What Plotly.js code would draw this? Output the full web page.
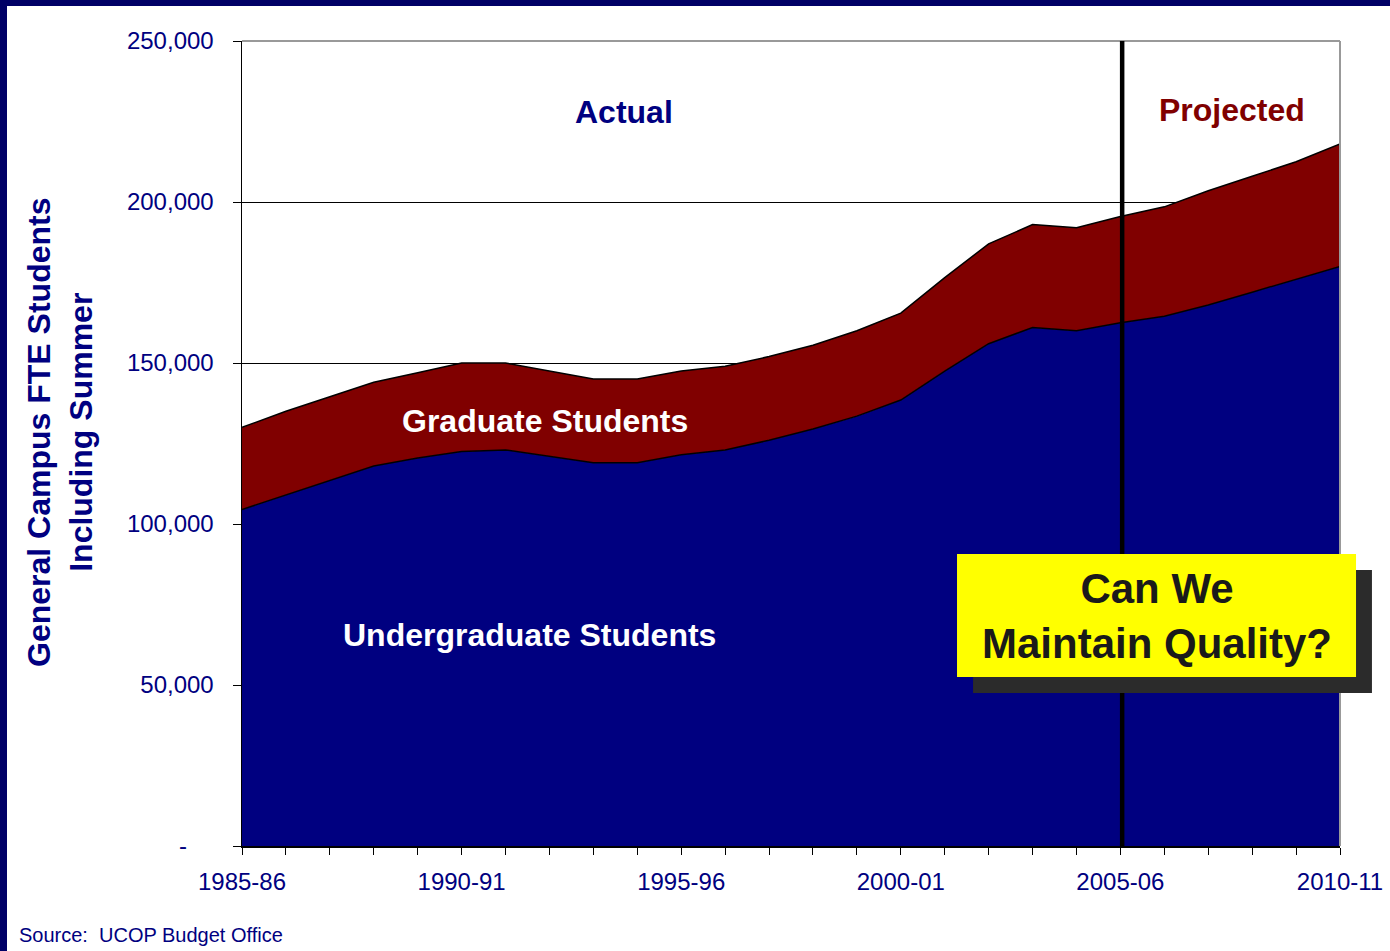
<!DOCTYPE html>
<html>
<head>
<meta charset="utf-8">
<script src="https://cdn.plot.ly/plotly-3.0.1.min.js"></script>
<style>
  html, body { margin: 0; padding: 0; background: #ffffff; }
  #chart { position: absolute; left: 0; top: 0; width: 1390px; height: 951px; }
  #topbar { position: absolute; left: 0; top: 0; width: 1390px; height: 6px; background: #000066; z-index: 5; }
  #leftbar { position: absolute; left: 0; top: 0; width: 7px; height: 951px; background: #000066; z-index: 5; }
</style>
</head>
<body>
<div id="chart"></div>
<div id="topbar"></div>
<div id="leftbar"></div>
<script>
// Academic years (categories)
const years = ["1985-86","1986-87","1987-88","1988-89","1989-90","1990-91","1991-92","1992-93",
  "1993-94","1994-95","1995-96","1996-97","1997-98","1998-99","1999-00","2000-01","2001-02",
  "2002-03","2003-04","2004-05","2005-06","2006-07","2007-08","2008-09","2009-10","2010-11"];

// Undergraduate FTE students
const undergrad = [104500,109000,113500,118000,120500,122500,123000,121000,119000,119000,
  121500,123000,126000,129500,133500,138500,147500,156000,161000,160000,
  162500,164500,168000,172000,176000,180000];

// Graduate FTE students (stacked on top of undergraduates)
const graduate = [25500,26000,26000,26000,26500,27500,27000,26500,26000,26000,
  26000,26000,26000,26000,26500,27000,29000,31000,32000,32000,
  33000,34000,35500,36000,36500,38000];

// Axis ticks
const yTickVals = [0,50000,100000,150000,200000,250000];
const yTickText = ["-\u00a0\u00a0\u00a0\u00a0","50,000","100,000","150,000","200,000","250,000"];
const xLabelYears = ["1985-86","1990-91","1995-96","2000-01","2005-06","2010-11"];
const xTickText = years.map(y => xLabelYears.includes(y) ? y : "");
const projectionStart = "2005-06";

const navy = "#000080";
const maroon = "#800000";
const font = "Arial, 'Liberation Sans', sans-serif";

const traces = [
  {
    x: years, y: undergrad, type: "scatter", mode: "lines", stackgroup: "one",
    fillcolor: navy, line: {color: "#000000", width: 1.5},
    hoverinfo: "skip", showlegend: false
  },
  {
    x: years, y: graduate, type: "scatter", mode: "lines", stackgroup: "one",
    fillcolor: maroon, line: {color: "#000000", width: 1.5},
    hoverinfo: "skip", showlegend: false
  }
];

function note(x, y, text, size, color, extra) {
  return Object.assign({xref: "paper", yref: "paper", x: x, y: y, text: text, showarrow: false,
    xanchor: "center", yanchor: "middle", font: {size: size, color: color, family: font}}, extra || {});
}

const layout = {
  width: 1390, height: 951,
  margin: {l: 242, r: 50, t: 41, b: 105},
  paper_bgcolor: "rgba(0,0,0,0)",
  plot_bgcolor: "#ffffff",
  font: {family: font, color: navy},
  showlegend: false,
  xaxis: {
    type: "category",
    range: [0, years.length - 1],
    tickvals: years, ticktext: xTickText,
    ticks: "outside", ticklen: 7, tickcolor: "#000000", tickwidth: 1,
    tickfont: {size: 24, color: navy, family: font},
    ticklabelstandoff: 7,
    showline: true, linecolor: "#000000", linewidth: 1.5,
    showgrid: false, zeroline: false, fixedrange: true
  },
  yaxis: {
    range: [0, 250000],
    tickvals: yTickVals, ticktext: yTickText,
    ticks: "outside", ticklen: 8, tickcolor: "#000000", tickwidth: 1,
    tickfont: {size: 24, color: navy, family: font},
    ticklabelstandoff: 14,
    showline: true, linecolor: "#000000", linewidth: 1.5,
    showgrid: true, gridcolor: "#000000", gridwidth: 1,
    zeroline: false, fixedrange: true, layer: "below traces"
  },
  shapes: [
    {type: "line", xref: "paper", yref: "paper", x0: 0, x1: 1, y0: 1, y1: 1,
     line: {color: "#999999", width: 2}, layer: "above"},
    {type: "line", xref: "paper", yref: "paper", x0: 1, x1: 1, y0: 0, y1: 1,
     line: {color: "#999999", width: 2}, layer: "above"},
    {type: "line", xref: "x", yref: "paper", x0: projectionStart, x1: projectionStart, y0: 0, y1: 1,
     x0shift: 0.04, x1shift: 0.04, line: {color: "#000000", width: 4.5}, layer: "above"},
    {type: "rect", xref: "paper", yref: "paper", x0: 0.6658, x1: 1.0291, y0: 0.1901, y1: 0.3429,
     fillcolor: "#2b2b2b", line: {width: 0}, layer: "above"},
    {type: "rect", xref: "paper", yref: "paper", x0: 0.6512, x1: 1.0146, y0: 0.2099, y1: 0.3627,
     fillcolor: "#ffff00", line: {width: 0}, layer: "above"}
  ],
  annotations: [
    note(-0.1658, 0.5143, "<b>General Campus FTE Students<br>Including Summer</b>", 32, navy, {textangle: -90}),
    note(0.3479, 0.9118, "<b>Actual</b>", 32, navy),
    note(0.9016, 0.9143, "<b>Projected</b>", 32, maroon),
    note(0.2760, 0.5280, "<b>Graduate Students</b>", 32, "#ffffff"),
    note(0.2614, 0.2621, "<b>Undergraduate Students</b>", 32, "#ffffff"),
    note(0.8329, 0.2863, "<b>Can We<br>Maintain Quality?</b>", 42, "#1a1a1a"),
    note(-0.2049, -0.1106, "Source:  UCOP Budget Office", 20, navy, {xanchor: "left"})
  ]
};

Plotly.newPlot("chart", traces, layout, {displayModeBar: false, staticPlot: true});
</script>
</body>
</html>
